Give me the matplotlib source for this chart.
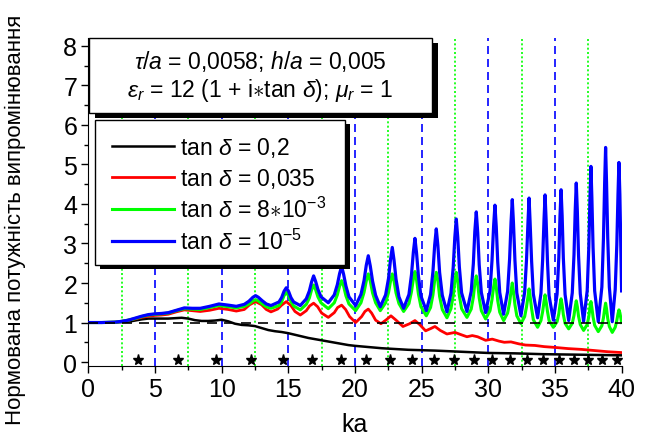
import matplotlib
matplotlib.use('Agg')
import matplotlib.pyplot as plt
from matplotlib.patches import Rectangle
from matplotlib.ticker import MultipleLocator

plt.rcParams['font.family'] = ['Liberation Sans', 'DejaVu Sans']
plt.rcParams['mathtext.fontset'] = 'custom'
plt.rcParams['mathtext.rm'] = 'Liberation Sans'
plt.rcParams['mathtext.it'] = 'Liberation Sans:italic'

# tan(delta) = 0.2
ka_black = [0, 1, 2, 3, 3.5, 4, 4.5, 5, 5.5, 6, 6.5, 7, 7.5, 8, 8.5, 9, 9.5, 10, 10.5, 11,
            11.5, 12, 12.5, 13, 13.5, 14, 14.5, 15, 15.5, 16, 16.5, 17, 17.5, 18, 18.5, 19,
            19.5, 20, 21, 22, 23, 24, 25, 26, 28, 30, 32, 34, 36, 38, 40]
p_black = [1.0, 1.0, 1.0, 1.02, 1.05, 1.08, 1.1, 1.1, 1.1, 1.1, 1.11, 1.12, 1.1, 1.06, 1.04, 1.04,
           1.05, 1.07, 1.03, 0.97, 0.94, 0.93, 0.91, 0.86, 0.81, 0.78, 0.76, 0.73, 0.69, 0.65,
           0.61, 0.58, 0.55, 0.52, 0.49, 0.46, 0.43, 0.41, 0.38, 0.35, 0.33, 0.31, 0.3, 0.29,
           0.26, 0.23, 0.22, 0.2, 0.19, 0.18, 0.17]

# tan(delta) = 0.035
ka_red = [0, 1, 2, 2.5, 3, 3.5, 4, 4.5, 5, 5.5, 6, 6.6, 7.2, 7.8, 8.4, 9.1, 9.8, 10.5, 11.1,
          11.7, 12.1, 12.55, 13.0, 13.35, 13.7, 14.2, 14.5, 14.85, 15.2, 15.5, 15.9, 16.35,
          16.6, 16.9, 17.2, 17.5, 18.0, 18.45, 18.7, 19.0, 19.3, 19.6, 20.05, 20.5, 20.75,
          21.0, 21.25, 21.55, 21.95, 22.35, 22.7, 23.05, 23.6, 24.1, 24.5, 24.85, 25.3, 25.7,
          26.0, 26.4, 26.9, 27.2, 27.5, 27.9, 28.4, 28.8, 29.2, 29.8, 30.3, 30.8, 31.2, 31.7,
          32.3, 32.8, 33.5, 34.2, 35.0, 36.0, 37.0, 38.0, 39.0, 40.0]
p_red = [1.0, 1.0, 1.01, 1.03, 1.06, 1.09, 1.13, 1.16, 1.18, 1.19, 1.21, 1.27, 1.32, 1.3, 1.28,
         1.31, 1.36, 1.33, 1.29, 1.33, 1.45, 1.53, 1.45, 1.33, 1.27, 1.34, 1.44, 1.53, 1.43,
         1.28, 1.19, 1.3, 1.42, 1.49, 1.4, 1.24, 1.13, 1.25, 1.38, 1.44, 1.33, 1.15, 1.0,
         1.15, 1.28, 1.34, 1.24, 1.06, 0.97, 1.07, 1.17, 1.07, 0.9, 0.97, 1.05, 0.95, 0.79,
         0.85, 0.9, 0.8, 0.71, 0.73, 0.75, 0.7, 0.64, 0.67, 0.64, 0.55, 0.58, 0.53, 0.5, 0.51,
         0.46, 0.43, 0.42, 0.39, 0.37, 0.34, 0.32, 0.29, 0.26, 0.24]

# tan(delta) = 8e-3
ka_green = [0, 1, 2, 2.5, 3, 3.5, 4, 4.5, 5, 5.5, 6, 6.6, 7.2, 7.8, 8.4, 9.1, 9.8, 10.5, 11.1,
            11.7, 12.05, 12.35, 12.55, 12.75, 13.05, 13.35, 13.7,
            14.3, 14.5, 14.68, 14.85, 15.02, 15.2, 15.4, 15.9,
            16.35, 16.58, 16.75, 16.9, 17.05, 17.22, 17.45, 18.0,
            18.45, 18.68, 18.85, 19.0, 19.15, 19.32, 19.55, 20.05,
            20.45, 20.68, 20.85, 21.0, 21.15, 21.32, 21.55, 21.9,
            22.3, 22.52, 22.67, 22.8, 22.93, 23.08, 23.3, 23.65,
            24.05, 24.24, 24.38, 24.5, 24.62, 24.76, 24.95, 25.35,
            25.67, 25.85, 25.98, 26.1, 26.22, 26.35, 26.55, 26.9,
            27.2, 27.37, 27.49, 27.6, 27.71, 27.83, 28.0, 28.4,
            28.72, 28.88, 28.99, 29.1, 29.21, 29.32, 29.48, 29.8,
            30.13, 30.28, 30.4, 30.5, 30.6, 30.71, 30.86, 31.15,
            31.45, 31.6, 31.71, 31.8, 31.89, 32.0, 32.14, 32.45,
            32.73, 32.87, 32.98, 33.06, 33.14, 33.25, 33.38, 33.7,
            33.95, 34.08, 34.18, 34.26, 34.34, 34.44, 34.56, 34.88,
            35.16, 35.29, 35.38, 35.46, 35.54, 35.63, 35.76, 36.03,
            36.3, 36.43, 36.52, 36.6, 36.68, 36.77, 36.9, 37.15,
            37.42, 37.54, 37.63, 37.7, 37.77, 37.86, 37.98, 38.25,
            38.52, 38.64, 38.73, 38.8, 38.87, 38.96, 39.08, 39.3,
            39.52, 39.64, 39.73, 39.8, 39.87, 39.95, 40.0]
p_green = [1.0, 1.0, 1.01, 1.03, 1.06, 1.1, 1.15, 1.19, 1.21, 1.22, 1.24, 1.3, 1.35, 1.34, 1.33,
           1.38, 1.43, 1.4, 1.37,
           1.41, 1.47, 1.55, 1.58, 1.55, 1.47, 1.4, 1.36,
           1.43, 1.52, 1.68, 1.76, 1.68, 1.53, 1.42, 1.32,
           1.46, 1.62, 1.83, 1.95, 1.83, 1.65, 1.5, 1.35,
           1.5, 1.7, 1.92, 2.06, 1.92, 1.68, 1.47, 1.3,
           1.5, 1.76, 2.05, 2.23, 2.05, 1.75, 1.5, 1.3,
           1.5, 1.76, 2.05, 2.23, 2.05, 1.75, 1.48, 1.28,
           1.48, 1.78, 2.1, 2.29, 2.08, 1.72, 1.4, 1.17,
           1.38, 1.7, 2.07, 2.27, 2.06, 1.66, 1.33, 1.12,
           1.35, 1.68, 2.05, 2.27, 2.05, 1.68, 1.35, 1.13,
           1.34, 1.64, 1.98, 2.18, 1.97, 1.62, 1.3, 1.09,
           1.3, 1.58, 1.9, 2.1, 1.89, 1.55, 1.26, 1.05,
           1.24, 1.5, 1.8, 2.0, 1.78, 1.45, 1.17, 0.97,
           1.15, 1.4, 1.67, 1.85, 1.66, 1.35, 1.07, 0.88,
           1.05, 1.28, 1.53, 1.7, 1.53, 1.28, 1.05, 0.88,
           1.02, 1.22, 1.45, 1.6, 1.45, 1.2, 0.98, 0.84,
           0.98, 1.18, 1.4, 1.55, 1.4, 1.16, 0.95, 0.8,
           0.95, 1.15, 1.38, 1.53, 1.38, 1.14, 0.93, 0.77,
           0.92, 1.12, 1.35, 1.49, 1.35, 1.1, 0.9, 0.75,
           0.88, 1.05, 1.22, 1.32, 1.25, 1.1, 1.0]

# tan(delta) = 1e-5
ka_blue = [0, 1, 2, 2.5, 3, 3.5, 4, 4.5, 5, 5.5, 6, 6.6, 7.2, 7.8, 8.4, 9.1, 9.8, 10.5, 11.1,
           11.7, 12.05, 12.35, 12.55, 12.75, 13.05, 13.35, 13.7,
           14.3, 14.5, 14.68, 14.85, 15.02, 15.2, 15.4, 15.9,
           16.35, 16.58, 16.75, 16.9, 17.05, 17.22, 17.45, 18.0,
           18.45, 18.68, 18.85, 19.0, 19.15, 19.32, 19.55, 20.05,
           20.45, 20.68, 20.85, 21.0, 21.15, 21.32, 21.55, 21.9,
           22.3, 22.52, 22.67, 22.8, 22.93, 23.08, 23.3, 23.65,
           24.05, 24.24, 24.38, 24.5, 24.62, 24.76, 24.95, 25.35,
           25.67, 25.85, 25.98, 26.1, 26.22, 26.35, 26.55, 26.9,
           27.2, 27.37, 27.49, 27.6, 27.71, 27.83, 28.0, 28.4,
           28.72, 28.88, 28.99, 29.1, 29.21, 29.32, 29.48, 29.8,
           30.13, 30.28, 30.4, 30.5, 30.6, 30.71, 30.86, 31.15,
           31.45, 31.6, 31.71, 31.8, 31.89, 32.0, 32.14, 32.45,
           32.73, 32.87, 32.98, 33.06, 33.14, 33.25, 33.38, 33.7,
           33.95, 34.08, 34.18, 34.26, 34.34, 34.44, 34.56, 34.88,
           35.16, 35.29, 35.38, 35.46, 35.54, 35.63, 35.76, 36.03,
           36.3, 36.43, 36.52, 36.6, 36.68, 36.77, 36.9, 37.15,
           37.42, 37.54, 37.63, 37.7, 37.77, 37.86, 37.98, 38.25,
           38.52, 38.64, 38.73, 38.8, 38.87, 38.96, 39.08, 39.3,
           39.52, 39.64, 39.73, 39.8, 39.87, 39.95, 40.0]
p_blue = [1.0, 1.0, 1.01, 1.03, 1.06, 1.11, 1.16, 1.2, 1.22, 1.23, 1.25, 1.31, 1.37, 1.36, 1.36,
          1.41, 1.47, 1.44, 1.41,
          1.46, 1.54, 1.64, 1.68, 1.64, 1.55, 1.47, 1.43,
          1.52, 1.63, 1.79, 1.88, 1.79, 1.63, 1.52, 1.43,
          1.6, 1.8, 2.03, 2.18, 2.04, 1.84, 1.65, 1.5,
          1.7, 1.96, 2.24, 2.42, 2.22, 1.93, 1.65, 1.43,
          1.71, 2.06, 2.45, 2.69, 2.43, 2.05, 1.69, 1.4,
          1.7, 2.12, 2.6, 2.9, 2.58, 2.1, 1.65, 1.36,
          1.71, 2.21, 2.78, 3.13, 2.76, 2.18, 1.67, 1.3,
          1.71, 2.29, 2.96, 3.37, 2.95, 2.27, 1.69, 1.27,
          1.74, 2.4, 3.15, 3.62, 3.16, 2.41, 1.75, 1.28,
          1.79, 2.49, 3.3, 3.8, 3.27, 2.46, 1.76, 1.25,
          1.8, 2.57, 3.44, 3.97, 3.42, 2.53, 1.76, 1.21,
          1.79, 2.61, 3.55, 4.11, 3.52, 2.57, 1.75, 1.17,
          1.77, 2.6, 3.55, 4.15, 3.52, 2.55, 1.72, 1.12,
          1.74, 2.6, 3.6, 4.23, 3.58, 2.55, 1.68, 1.06,
          1.72, 2.64, 3.7, 4.36, 3.7, 2.63, 1.71, 1.05,
          1.75, 2.72, 3.83, 4.53, 3.82, 2.7, 1.73, 1.03,
          1.81, 2.9, 4.17, 4.95, 4.16, 2.9, 1.8, 1.02,
          1.9, 3.14, 4.55, 5.43, 4.55, 3.14, 1.9, 1.02,
          1.83, 2.96, 4.24, 5.05, 4.24, 2.8, 1.8]

# resonance markers (stars) along the bottom
ka_stars = [3.75, 6.75, 9.6, 12.2, 14.6, 16.8, 18.95, 20.85, 22.65, 24.3, 25.92, 27.45,
            28.93, 30.3, 31.64, 32.93, 34.1, 35.3, 36.42, 37.5, 38.56, 39.62]
p_stars = [0.06] * len(ka_stars)

ka_dotted = [2.5, 7.5, 12.5, 17.5, 22.5, 27.5, 32.5, 37.5]
ka_dashed = [5, 10, 15, 20, 25, 30, 35]

labels = [r'tan $\delta$ = 0,2', r'tan $\delta$ = 0,035',
          r'tan $\delta$ = 8$\ast$10$^{-3}$', r'tan $\delta$ = 10$^{-5}$']

W, H = 649, 439
fig = plt.figure(figsize=(W / 100, H / 100), dpi=100)
ax = fig.add_axes([88.3 / W, 1 - 367 / H, (621.6 - 88.3) / W, (367 - 39) / H])

for x in ka_dotted:
    ax.axvline(x, color='#00ff00', lw=1.2, ls=(0, (1.2, 1.4)), zorder=1)
for x in ka_dashed:
    ax.axvline(x, color='#0000ff', lw=1.2, ls=(0, (4.8, 3.0)), zorder=1)

l1, = ax.plot(ka_black, p_black, color='black', lw=1.8, zorder=3)
l2, = ax.plot(ka_red, p_red, color='#ff0000', lw=2.0, zorder=3)
l3, = ax.plot(ka_green, p_green, color='#00ff00', lw=2.2, zorder=3)
l4, = ax.plot(ka_blue, p_blue, color='#0000ff', lw=2.3, zorder=4)
ax.axhline(1.0, color='black', lw=1.2, ls=(0, (6, 4.2)), zorder=5)
ax.plot(ka_stars, p_stars, ls='none', marker='*', color='black', ms=8, zorder=6)

ax.set_xlim(0, 40)
ax.set_ylim(-0.1, 8.2)
ax.xaxis.set_major_locator(MultipleLocator(5))
ax.xaxis.set_minor_locator(MultipleLocator(2.5))
ax.yaxis.set_major_locator(MultipleLocator(1))
ax.yaxis.set_minor_locator(MultipleLocator(0.5))
ax.tick_params(which='major', direction='out', length=5, width=1, labelsize=18, pad=3)
ax.tick_params(which='minor', direction='out', length=3, width=1)
for s in ['top', 'right']:
    ax.spines[s].set_visible(False)
ax.set_xlabel('ka', fontsize=18, labelpad=8)
fig.text(15 / W, 0.5, 'Нормована потужність випромінювання', rotation=90,
         ha='center', va='center', fontsize=16)

# parameter box with shadow
bx0, by0, bx1, by1 = 89, 39, 432, 114
ax.add_patch(Rectangle(((bx0 + 6) / W, 1 - (by1 + 5) / H), (bx1 - bx0) / W, (by1 - by0) / H,
                       transform=fig.transFigure, facecolor='black', edgecolor='none',
                       clip_on=False, zorder=10))
ax.add_patch(Rectangle((bx0 / W, 1 - by1 / H), (bx1 - bx0) / W, (by1 - by0) / H,
                       transform=fig.transFigure, facecolor='white', edgecolor='black',
                       lw=1.0, clip_on=False, zorder=11))
ax.text(260.5 / W, 1 - 62 / H, r'$\tau$/$a$ = 0,0058; $h$/$a$ = 0,005', transform=fig.transFigure,
        ha='center', va='center', fontsize=16.5, zorder=12)
ax.text(260.5 / W, 1 - 90 / H, r'$\varepsilon_r$ = 12 (1 + i$\ast$tan $\delta$); $\mu_r$ = 1',
        transform=fig.transFigure, ha='center', va='center', fontsize=16.5, zorder=12)

# legend frame with shadow
lx0, ly0, lx1, ly1 = 95, 121, 345, 266
ax.add_patch(Rectangle(((lx0 + 5) / W, 1 - (ly1 + 4) / H), (lx1 - lx0) / W, (ly1 - ly0) / H,
                       transform=fig.transFigure, facecolor='black', edgecolor='none',
                       clip_on=False, zorder=10))
ax.add_patch(Rectangle((lx0 / W, 1 - ly1 / H), (lx1 - lx0) / W, (ly1 - ly0) / H,
                       transform=fig.transFigure, facecolor='white', edgecolor='black',
                       lw=1.0, clip_on=False, zorder=11))
leg = ax.legend([l1, l2, l3, l4], labels, loc='upper left',
                bbox_to_anchor=(111.7 / W, 1 - 136 / H), bbox_transform=fig.transFigure,
                frameon=False, fontsize=16.5, borderpad=0, borderaxespad=0,
                handlelength=2.7, handletextpad=0.3, labelspacing=0.3)
leg.set_zorder(12)

fig.savefig('out.png', dpi=100)
